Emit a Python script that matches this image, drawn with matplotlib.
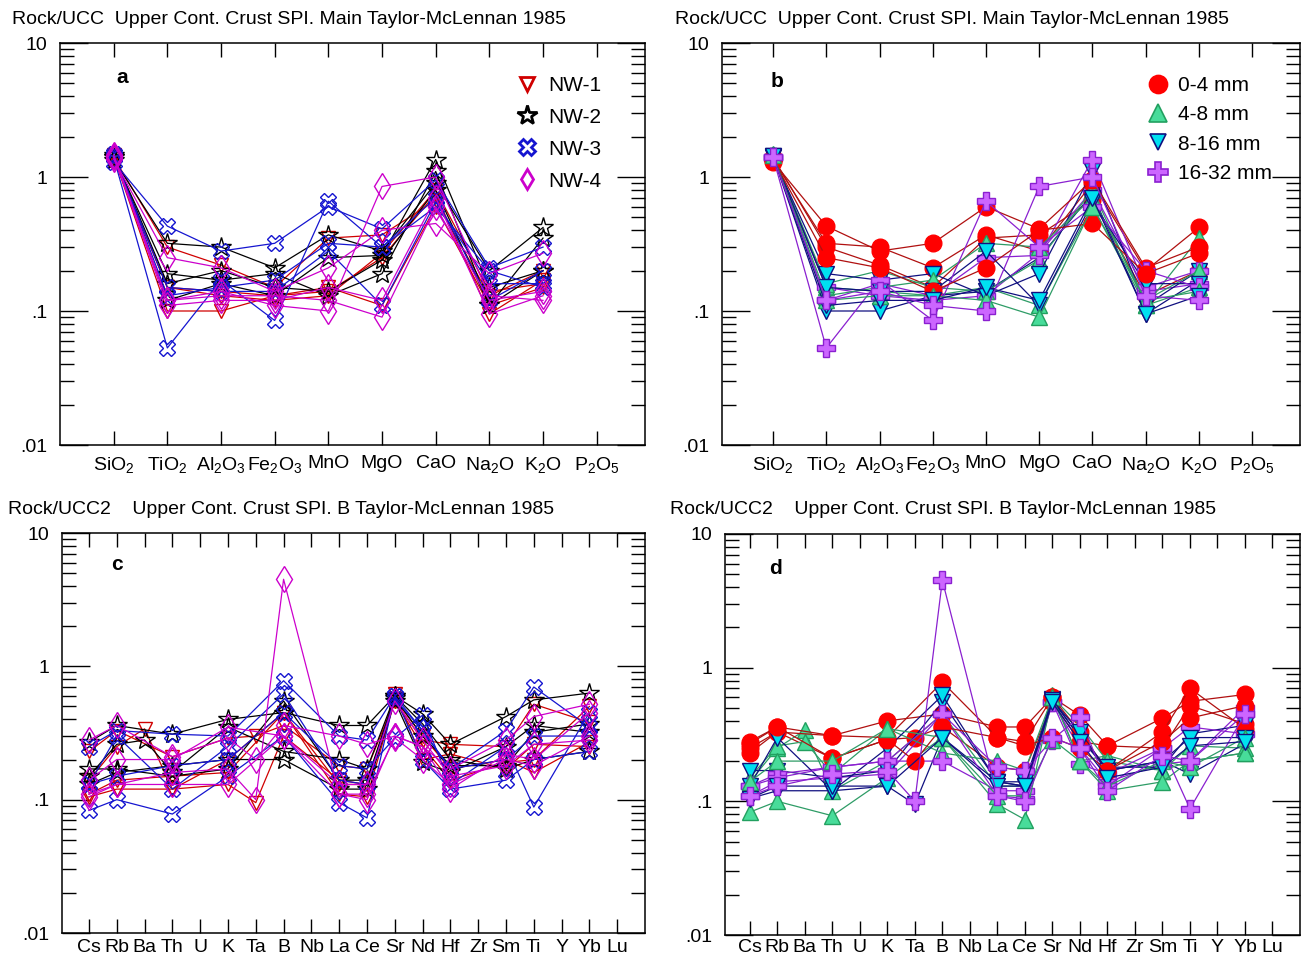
import numpy as np
import matplotlib
matplotlib.use("Agg")
import matplotlib.pyplot as plt
from matplotlib.lines import Line2D

plt.rcParams['font.family'] = ['Liberation Sans', 'DejaVu Sans']
plt.rcParams['mathtext.fontset'] = 'custom'
plt.rcParams['mathtext.rm'] = 'Liberation Sans'
plt.rcParams['mathtext.it'] = 'Liberation Sans:italic'
plt.rcParams['mathtext.bf'] = 'Liberation Sans:bold'
plt.rcParams['mathtext.default'] = 'regular'

nan = np.nan

# 16 samples: 4 sites x 4 size fractions
sites = ["NW-1"] * 4 + ["NW-2"] * 4 + ["NW-3"] * 4 + ["NW-4"] * 4
sizes = ["0-4 mm", "4-8 mm", "8-16 mm", "16-32 mm"] * 4

major_labels = ["SiO$_2$", "TiO$_2$", "Al$_2$O$_3$", "Fe$_2$O$_3$", "MnO",
                "MgO", "CaO", "Na$_2$O", "K$_2$O", "P$_2$O$_5$"]
trace_labels = ["Cs", "Rb", "Ba", "Th", "U", "K", "Ta", "B", "Nb", "La", "Ce",
                "Sr", "Nd", "Hf", "Zr", "Sm", "Ti", "Y", "Yb", "Lu"]

# rock / UCC, major elements (P2O5 not reported)
majors = [
    [1.40, 0.30, 0.22, 0.15, 0.35, 0.37, 0.67, 0.13, 0.20, nan],
    [1.45, 0.15, 0.14, 0.13, 0.15, 0.11, 0.60, 0.11, 0.15, nan],
    [1.42, 0.10, 0.10, 0.13, 0.14, 0.25, 0.75, 0.095, 0.17, nan],
    [1.38, 0.15, 0.13, 0.12, 0.13, 0.27, 0.80, 0.14, 0.16, nan],
    [1.35, 0.32, 0.30, 0.21, 0.37, 0.28, 0.90, 0.20, 0.42, nan],
    [1.45, 0.16, 0.20, 0.15, 0.14, 0.24, 0.80, 0.11, 0.35, nan],
    [1.40, 0.19, 0.17, 0.19, 0.13, 0.19, 1.10, 0.11, 0.20, nan],
    [1.42, 0.12, 0.16, 0.13, 0.25, 0.26, 1.35, 0.15, 0.20, nan],
    [1.30, 0.43, 0.28, 0.32, 0.60, 0.41, 0.95, 0.21, 0.30, nan],
    [1.48, 0.13, 0.15, 0.17, 0.32, 0.30, 0.70, 0.12, 0.20, nan],
    [1.44, 0.15, 0.14, 0.14, 0.28, 0.11, 0.65, 0.16, 0.16, nan],
    [1.40, 0.053, 0.17, 0.085, 0.66, 0.30, 0.60, 0.20, 0.15, nan],
    [1.36, 0.25, 0.21, 0.14, 0.21, 0.40, 0.45, 0.19, 0.27, nan],
    [1.46, 0.12, 0.13, 0.13, 0.12, 0.09, 0.60, 0.12, 0.14, nan],
    [1.43, 0.11, 0.12, 0.12, 0.15, 0.12, 0.70, 0.095, 0.13, nan],
    [1.41, 0.12, 0.14, 0.11, 0.10, 0.85, 1.00, 0.13, 0.12, nan],
]

# rock / UCC2, trace elements
#          Cs    Rb    Ba    Th    U    K     Ta    B     Nb   La    Ce    Sr    Nd    Hf    Zr   Sm    Ti     Y    Yb    Lu
traces = [
    [0.23, 0.33, nan, 0.21, nan, 0.29, 0.30, 0.36, nan, 0.18, 0.17, 0.55, 0.28, 0.26, nan, 0.25, 0.52, nan, 0.38, nan],
    [0.14, 0.25, 0.34, 0.12, nan, 0.20, nan, 0.45, nan, 0.13, 0.13, 0.62, 0.20, 0.22, nan, 0.17, 0.26, nan, 0.25, nan],
    [0.105, 0.12, nan, 0.12, nan, 0.13, 0.095, 0.30, nan, 0.14, 0.13, 0.57, 0.30, 0.17, nan, 0.20, 0.16, nan, 0.27, nan],
    [0.11, 0.14, nan, 0.15, nan, 0.16, nan, 0.45, nan, 0.11, 0.105, 0.55, 0.25, 0.14, nan, 0.19, 0.20, nan, 0.50, nan],
    [0.27, 0.36, nan, 0.31, nan, 0.40, nan, 0.45, nan, 0.36, 0.36, 0.60, 0.44, 0.26, nan, 0.42, 0.56, nan, 0.63, nan],
    [0.15, 0.26, 0.28, 0.16, nan, 0.35, nan, 0.23, nan, 0.20, 0.17, 0.60, 0.37, 0.20, nan, 0.17, 0.20, nan, 0.23, nan],
    [0.17, 0.17, nan, 0.15, nan, 0.17, nan, 0.55, nan, 0.14, 0.14, 0.58, 0.30, 0.18, nan, 0.18, 0.32, nan, 0.37, nan],
    [0.13, 0.16, nan, 0.18, nan, 0.20, nan, 0.20, nan, 0.12, 0.12, 0.55, 0.19, 0.16, nan, 0.25, 0.36, nan, 0.32, nan],
    [0.25, 0.33, nan, 0.31, nan, 0.30, nan, 0.78, nan, 0.30, 0.28, 0.60, 0.33, 0.17, nan, 0.33, 0.70, nan, 0.35, nan],
    [0.083, 0.10, nan, 0.078, nan, 0.15, nan, 0.30, nan, 0.095, 0.073, 0.60, 0.20, 0.12, nan, 0.14, 0.20, nan, 0.23, nan],
    [0.13, 0.30, nan, 0.12, nan, 0.25, nan, 0.62, nan, 0.14, 0.13, 0.57, 0.33, 0.17, nan, 0.20, 0.30, nan, 0.30, nan],
    [0.13, 0.15, nan, 0.18, nan, 0.20, nan, 0.45, nan, 0.18, 0.17, 0.29, 0.43, 0.13, nan, 0.25, 0.088, nan, 0.45, nan],
    [0.28, 0.36, nan, 0.21, nan, 0.29, 0.20, 0.36, nan, 0.30, 0.26, 0.30, 0.25, 0.17, nan, 0.28, 0.42, nan, 0.52, nan],
    [0.14, 0.20, nan, 0.20, nan, 0.35, nan, 0.30, nan, 0.11, 0.11, 0.29, 0.20, 0.13, nan, 0.20, 0.18, nan, 0.30, nan],
    [0.105, 0.13, nan, 0.13, nan, 0.13, nan, 0.30, nan, 0.13, 0.13, 0.55, 0.28, 0.15, nan, 0.18, 0.26, nan, 0.28, nan],
    [0.11, 0.13, nan, 0.16, nan, 0.17, 0.10, 4.50, nan, 0.11, 0.10, 0.30, 0.25, 0.12, nan, 0.22, 0.20, nan, 0.45, nan],
]

site_style = {
    "NW-1": dict(marker="v", color="#d00000", ms=10),
    "NW-2": dict(marker="*", color="black", ms=15),
    "NW-3": dict(marker="X", color="#1515d0", ms=12),
    "NW-4": dict(marker="d", color="#cc00cc", ms=13),
}
size_style = {
    "0-4 mm": dict(marker="o", face="#ff0000", edge="#ff0000", line="#b01010", ms=12),
    "4-8 mm": dict(marker="^", face="#48dc9a", edge="#22a060", line="#2e9c66", ms=12),
    "8-16 mm": dict(marker="v", face="#00e0f0", edge="#101080", line="#101080", ms=11),
    "16-32 mm": dict(marker="P", face="#cc66ff", edge="#8a20d0", line="#8a20d0", ms=13),
}

fig = plt.figure(figsize=(13.07, 9.6), dpi=100)
W, H = 1307, 960


def make_ax(l, t, r, b):
    return fig.add_axes([l / W, 1 - b / H, (r - l) / W, (b - t) / H])


def style_axes(ax, labels, xlim, xpad=7):
    ax.set_yscale("log")
    ax.set_ylim(0.01, 10)
    ax.set_xlim(*xlim)
    ax.set_yticks([0.01, 0.1, 1, 10])
    ax.set_yticklabels([".01", ".1", "1", "10"])
    ax.set_yticks([m * 10.0 ** e for e in (-2, -1, 0) for m in range(2, 10)], minor=True)
    ax.set_xticks(np.arange(1, len(labels) + 1))
    ax.set_xticklabels(labels)
    ax.tick_params(axis="y", which="major", direction="in", left=True, right=True,
                   length=20, width=1, labelsize=14, pad=9)
    ax.tick_params(axis="y", which="minor", direction="in", left=True, right=True,
                   length=10, width=1, labelleft=False)
    ax.tick_params(axis="x", which="major", direction="in", top=True, bottom=True,
                   length=10, width=1, labelsize=14, pad=xpad)
    ax.tick_params(axis="x", which="minor", bottom=False, top=False)
    for s in ax.spines.values():
        s.set_linewidth(1.1)


def plot_by_site(ax, data):
    for site, row in zip(sites, data):
        st = site_style[site]
        y = np.array(row, dtype=float)
        x = np.arange(1, len(y) + 1)
        ok = ~np.isnan(y)
        ax.plot(x[ok], y[ok], color=st["color"], lw=0.9, marker=st["marker"],
                ms=st["ms"], mfc="none", mec=st["color"], mew=1.0)


def plot_by_size(ax, data):
    for size, row in zip(sizes, data):
        st = size_style[size]
        y = np.array(row, dtype=float)
        x = np.arange(1, len(y) + 1)
        ok = ~np.isnan(y)
        ax.plot(x[ok], y[ok], color=st["line"], lw=0.9, marker=st["marker"],
                ms=st["ms"], mfc=st["face"], mec=st["edge"], mew=1.0)


def site_legend(ax, anchor):
    handles = [Line2D([], [], ls="none", marker=site_style[s]["marker"],
                      ms=site_style[s]["ms"] - (3 if s == "NW-4" else 0), mfc="none",
                      mec=site_style[s]["color"], mew=2)
               for s in site_style]
    ax.legend(handles, list(site_style), loc="upper left", bbox_to_anchor=anchor,
              frameon=False, fontsize=15, handletextpad=0.4, labelspacing=0.62,
              handlelength=1.2)


def size_legend(ax, anchor):
    handles = [Line2D([], [], ls="none", marker=size_style[s]["marker"],
                      ms=size_style[s]["ms"] + 1, mfc=size_style[s]["face"],
                      mec=size_style[s]["edge"], mew=1.2)
               for s in size_style]
    ax.legend(handles, list(size_style), loc="upper left", bbox_to_anchor=anchor,
              frameon=False, fontsize=15, handletextpad=0.35, labelspacing=0.5,
              handlelength=1.2)


title_main = "Rock/UCC  Upper Cont. Crust SPI. Main Taylor-McLennan 1985"
title_trace = "Rock/UCC2    Upper Cont. Crust SPI. B Taylor-McLennan 1985"

# a
ax_a = make_ax(60, 43, 645, 445)
plot_by_site(ax_a, majors)
style_axes(ax_a, major_labels, (0.0, 10.9))
site_legend(ax_a, (0.745, 0.965))
ax_a.text(0.107, 0.915, "a", transform=ax_a.transAxes, fontsize=15,
          fontweight="bold", ha="center", va="center")
fig.text(12 / W, 1 - 19 / H, title_main, fontsize=14, va="center", ha="left")

# b
ax_b = make_ax(722, 43, 1300, 445)
plot_by_size(ax_b, majors)
style_axes(ax_b, major_labels, (0.04, 10.9))
size_legend(ax_b, (0.7, 0.965))
ax_b.text(0.095, 0.905, "b", transform=ax_b.transAxes, fontsize=15,
          fontweight="bold", ha="center", va="center")
fig.text(675 / W, 1 - 19 / H, title_main, fontsize=14, va="center", ha="left")

# c
ax_c = make_ax(62, 533, 645, 933)
plot_by_site(ax_c, traces)
style_axes(ax_c, trace_labels, (0.03, 21.0), xpad=4)
ax_c.text(0.095, 0.92, "c", transform=ax_c.transAxes, fontsize=15,
          fontweight="bold", ha="center", va="center")
fig.text(8 / W, 1 - 509 / H, title_trace, fontsize=14, va="center", ha="left")

# d
ax_d = make_ax(725, 534, 1300, 935)
plot_by_size(ax_d, traces)
style_axes(ax_d, trace_labels, (0.1, 21.0), xpad=3)
ax_d.text(0.087, 0.915, "d", transform=ax_d.transAxes, fontsize=15,
          fontweight="bold", ha="center", va="center")
fig.text(670 / W, 1 - 509 / H, title_trace, fontsize=14, va="center", ha="left")

fig.savefig("out.png", dpi=100)
